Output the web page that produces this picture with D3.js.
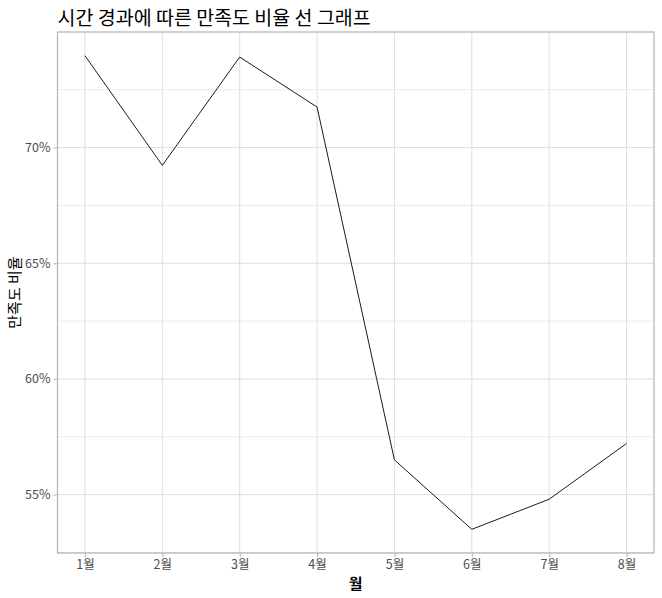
<!DOCTYPE html>
<html>
<head>
<meta charset="utf-8">
<script src="https://cdn.jsdelivr.net/npm/d3@7"></script>
<style>
  body { margin: 0; background: #fff; }
  text { font-family: "Noto Sans CJK KR", "Noto Sans", sans-serif; }
</style>
</head>
<body>
<div id="chart"></div>
<script>
const months = ["1월", "2월", "3월", "4월", "5월", "6월", "7월", "8월"];
const satisfaction = [0.7397, 0.6923, 0.7391, 0.7175, 0.5650, 0.5350, 0.5480, 0.5721];
const yTicks = [0.55, 0.60, 0.65, 0.70];
const yMinor = [0.525, 0.575, 0.625, 0.675, 0.725];

const W = 662, H = 598;
const margin = { top: 32, right: 8, bottom: 45, left: 57.5 };
const width = W - margin.left - margin.right;
const height = H - margin.top - margin.bottom;

const data = months.map((m, i) => ({ month: m, value: satisfaction[i] }));

const x = d3.scalePoint()
  .domain(months)
  .range([0, width])
  .padding(0.355);

// ggplot-style 5% expansion
const lo = d3.min(satisfaction), hi = d3.max(satisfaction);
const pad = (hi - lo) * 0.05;
const y = d3.scaleLinear()
  .domain([lo - pad, hi + pad])
  .range([height, 0]);

const svg = d3.select("#chart").append("svg")
  .attr("width", W)
  .attr("height", H);

svg.append("text")
  .attr("x", margin.left)
  .attr("y", 25)
  .attr("font-size", 19.5)
  .attr("fill", "#000")
  .text("시간 경과에 따른 만족도 비율 선 그래프");

const g = svg.append("g")
  .attr("transform", "translate(" + margin.left + "," + margin.top + ")");

// minor grid
g.selectAll(".minor")
  .data(yMinor.filter(v => y(v) >= 0 && y(v) <= height))
  .enter().append("line")
    .attr("x1", 0).attr("x2", width)
    .attr("y1", d => y(d)).attr("y2", d => y(d))
    .attr("stroke", "#e6e6e6").attr("stroke-width", 0.8);

// major grid
g.selectAll(".hmajor")
  .data(yTicks)
  .enter().append("line")
    .attr("x1", 0).attr("x2", width)
    .attr("y1", d => y(d)).attr("y2", d => y(d))
    .attr("stroke", "#dedede").attr("stroke-width", 1);

g.selectAll(".vmajor")
  .data(months)
  .enter().append("line")
    .attr("y1", 0).attr("y2", height)
    .attr("x1", d => x(d)).attr("x2", d => x(d))
    .attr("stroke", "#dedede").attr("stroke-width", 1);

const line = d3.line()
  .x(d => x(d.month))
  .y(d => y(d.value));

g.append("path")
  .datum(data)
  .attr("d", line)
  .attr("fill", "none")
  .attr("stroke", "#1a1a1a")
  .attr("stroke-width", 1);

// panel border
g.append("rect")
  .attr("x", 0).attr("y", 0)
  .attr("width", width).attr("height", height)
  .attr("fill", "none")
  .attr("stroke", "#b3b3b3")
  .attr("stroke-width", 1.2);

const xAxis = g.append("g")
  .attr("transform", "translate(0," + height + ")")
  .call(d3.axisBottom(x).tickSize(4).tickPadding(3));

const yAxis = g.append("g")
  .call(d3.axisLeft(y).tickValues(yTicks).tickFormat(d3.format(".0%")).tickSize(4).tickPadding(3));

[xAxis, yAxis].forEach(a => {
  a.select(".domain").remove();
  a.selectAll(".tick line").attr("stroke", "#b3b3b3");
  a.selectAll(".tick text")
    .attr("fill", "#4d4d4d")
    .attr("font-size", 12.5)
    .style("font-family", "'Noto Sans CJK KR', sans-serif");
});

svg.append("text")
  .attr("x", margin.left + width / 2)
  .attr("y", 589)
  .attr("text-anchor", "middle")
  .attr("font-size", 15)
  .attr("font-weight", "bold")
  .attr("fill", "#000")
  .text("월");

svg.append("text")
  .attr("transform", "translate(20," + (margin.top + height / 2) + ") rotate(-90)")
  .attr("text-anchor", "middle")
  .attr("font-size", 15)
  .attr("fill", "#000")
  .text("만족도 비율");
</script>
</body>
</html>
